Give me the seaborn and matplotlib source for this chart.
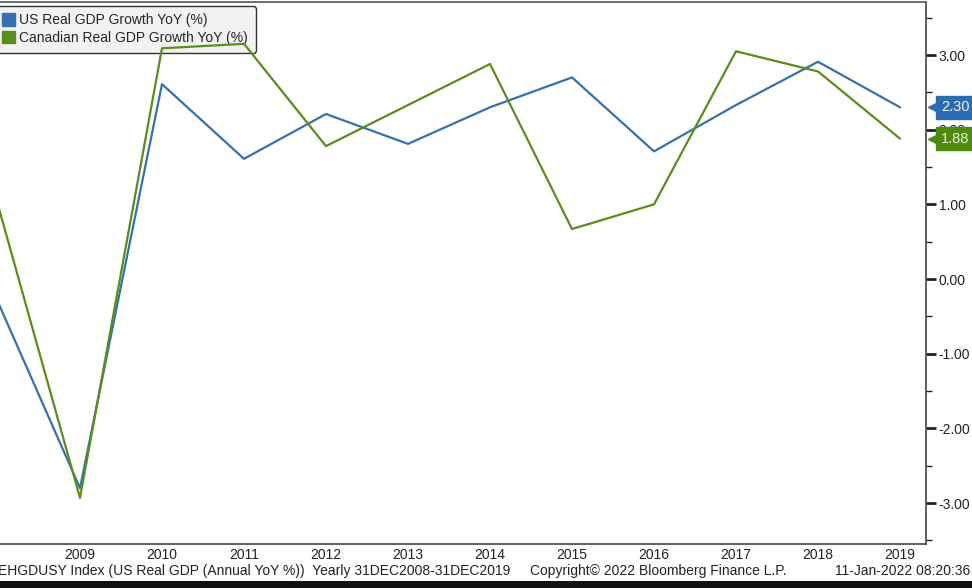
import pandas as pd
import matplotlib.pyplot as plt
import matplotlib.patches as mpatches
import matplotlib.transforms as mtransforms
import seaborn as sns

# Data
years = [2008, 2009, 2010, 2011, 2012, 2013, 2014, 2015, 2016, 2017, 2018, 2019]
us_growth = [-0.31, -2.80, 2.61, 1.61, 2.21, 1.81, 2.30, 2.70, 1.71, 2.33, 2.91, 2.30]
ca_growth = [0.99, -2.93, 3.09, 3.15, 1.78, 2.33, 2.88, 0.67, 1.00, 3.05, 2.78, 1.88]
series_names = ["US Real GDP Growth YoY (%)", "Canadian Real GDP Growth YoY (%)"]
last_labels = ["2.30", "1.88"]
y_ticks = [-3, -2, -1, 0, 1, 2, 3]
y_minor = [-3.5, -2.5, -1.5, -0.5, 0.5, 1.5, 2.5, 3.5]

line_colors = ["#3671ad", "#5a8d1c"]
tag_colors = ["#2c6cb0", "#4e8a0e"]
tag_text = ["#eef3fa", "#e6f3cf"]

df = pd.DataFrame({
    "year": years * 2,
    "value": us_growth + ca_growth,
    "series": [series_names[0]] * len(years) + [series_names[1]] * len(years),
})

sns.set_style("white")
plt.rcParams["font.family"] = ["Liberation Sans", "DejaVu Sans"]
plt.rcParams["axes.unicode_minus"] = False

fig = plt.figure(figsize=(9.72, 5.88), dpi=100)
ax = fig.add_axes([0.0, 44 / 588, 926 / 972, 542 / 588])

sns.lineplot(data=df, x="year", y="value", hue="series", palette=line_colors,
             linewidth=1.6, ax=ax, legend=False, zorder=3)

ax.set_xlim(2009 - 80 / 82, 2019 + 26 / 82)
ax.set_ylim(-3.548, 3.71)
ax.set_xlabel("")
ax.set_ylabel("")

ax.set_xticks(years[1:])
ax.set_xticklabels([str(y) for y in years[1:]])
ax.yaxis.tick_right()
ax.set_yticks(y_ticks)
ax.set_yticklabels([f"{v:.2f}" for v in y_ticks])
ax.set_yticks(y_minor, minor=True)
ax.tick_params(axis="x", length=0, pad=3, labelsize=10, colors="#222222")
ax.tick_params(axis="y", which="major", right=True, direction="out", length=7,
               width=2, pad=2, labelsize=10, colors="#222222")
ax.tick_params(axis="y", which="minor", right=True, direction="out", length=4,
               width=1, color="#222222")

ax.spines["left"].set_visible(False)
ax.spines["right"].set_color("#444444")
ax.spines["bottom"].set_color("#444444")
ax.spines["top"].set_color("#555555")
for s in ["right", "bottom", "top"]:
    ax.spines[s].set_linewidth(1.2)

# last value tags on the right axis
trans = mtransforms.blended_transform_factory(ax.transAxes, ax.transData)
for i, vals in enumerate([us_growth, ca_growth]):
    ax.plot([1.011], [vals[-1]], marker="<", markersize=12, color=tag_colors[i],
            transform=trans, clip_on=False, zorder=5)
    ax.text(1.016, vals[-1], last_labels[i], transform=trans, ha="left", va="center",
            fontsize=10.5, color=tag_text[i], clip_on=False, zorder=6,
            bbox=dict(boxstyle="square,pad=0.3", facecolor=tag_colors[i],
                      edgecolor=tag_colors[i]))

# legend with square swatches (drawn under the lines, as in the original)
handles = [mpatches.Patch(facecolor=c, edgecolor=c) for c in line_colors]
leg = ax.legend(handles, series_names, loc="upper left", bbox_to_anchor=(-0.006, 0.993),
                frameon=True, fancybox=True, fontsize=10, handlelength=0.9,
                handleheight=1.0, handletextpad=0.35, labelspacing=0.25,
                borderpad=0.55, borderaxespad=0.0)
leg.set_zorder(2)
leg.get_frame().set_facecolor("#f2f2f2")
leg.get_frame().set_edgecolor("#333333")
leg.get_frame().set_alpha(1)
leg.get_frame().set_linewidth(1.0)

# footer
fig.text(-0.002, 17 / 588, "EHGDUSY Index (US Real GDP (Annual YoY %))  Yearly 31DEC2008-31DEC2019",
         ha="left", va="center", fontsize=10, color="#222222")
fig.text(530 / 972, 17 / 588, "Copyright\u00a9 2022 Bloomberg Finance L.P.",
         ha="left", va="center", fontsize=10, color="#222222")
fig.text(970 / 972, 17 / 588, "11-Jan-2022 08:20:36",
         ha="right", va="center", fontsize=10, color="#222222")
fig.patches.append(mpatches.Rectangle((0, 0), 1, 7 / 588, transform=fig.transFigure,
                                      facecolor="#111111", edgecolor="none"))

fig.savefig("out.png", dpi=100)
